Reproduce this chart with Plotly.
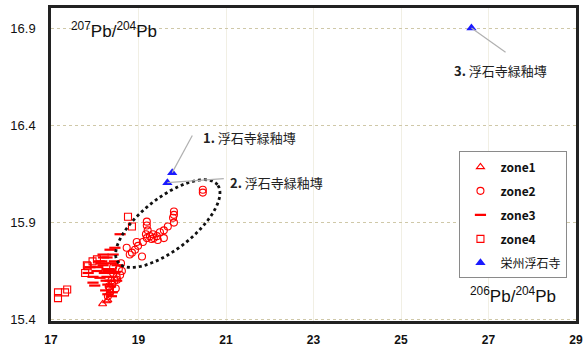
import numpy as np
import plotly.graph_objects as go

# 206Pb/204Pb (x) and 207Pb/204Pb (y) by zone
zone1_x = [18.18, 18.27, 18.30]
zone1_y = [15.48, 15.495, 15.50]

zone2_x = [20.47, 20.47, 19.81, 19.81, 19.79, 19.81, 19.67, 19.58, 19.49, 19.42,
           19.33, 19.26, 19.19, 19.19, 19.19, 19.21, 19.17, 18.96, 18.99, 18.92,
           19.08, 18.80, 18.73, 19.44, 19.58, 18.58, 18.51, 18.62, 18.42, 18.35,
           18.30, 18.35, 18.40, 18.45, 18.50, 18.38, 18.42, 18.55, 18.60, 18.32,
           18.48, 19.30, 19.35, 19.10, 18.85]
zone2_y = [16.07, 16.055, 15.957, 15.94, 15.925, 15.90, 15.88, 15.86, 15.85, 15.83,
           15.84, 15.83, 15.82, 15.905, 15.885, 15.86, 15.84, 15.80, 15.78, 15.76,
           15.725, 15.735, 15.77, 15.81, 15.82, 15.63, 15.605, 15.65, 15.67, 15.54,
           15.52, 15.56, 15.58, 15.60, 15.62, 15.60, 15.64, 15.66, 15.69, 15.57,
           15.56, 15.815, 15.82, 15.80, 15.745]

zone3_x = [18.58, 18.35, 18.42, 18.28, 18.16, 18.19, 18.39, 18.51, 17.89, 18.07,
           18.28, 17.96, 18.12, 17.96, 18.00, 18.30, 18.46, 18.19, 18.46, 18.25,
           18.30, 18.35, 18.28, 18.40, 18.33, 18.45, 18.22, 18.30, 18.38, 18.26,
           18.36, 18.10, 18.20, 17.85, 18.05, 18.15, 18.40, 18.50]
zone3_y = [15.84, 15.76, 15.735, 15.72, 15.70, 15.68, 15.69, 15.68, 15.67, 15.67,
           15.66, 15.62, 15.615, 15.59, 15.575, 15.65, 15.645, 15.735, 15.77, 15.55,
           15.58, 15.60, 15.62, 15.64, 15.66, 15.70, 15.64, 15.53, 15.52, 15.60,
           15.57, 15.70, 15.72, 15.64, 15.65, 15.69, 15.54, 15.60]

zone4_x = [17.16, 17.16, 17.32, 17.37, 17.82, 17.78, 17.84, 18.76, 18.85, 17.95, 18.05]
zone4_y = [15.51, 15.54, 15.54, 15.555, 15.68, 15.64, 15.675, 15.93, 15.88, 15.70, 15.71]

yeongju_x = [19.77, 19.66, 26.61]
yeongju_y = [16.158, 16.106, 16.905]
yeongju_labels = ["1. 浮石寺緑釉塼", "2. 浮石寺緑釉塼", "3. 浮石寺緑釉塼"]

x_ticks = [17, 19, 21, 23, 25, 27, 29]
y_ticks = [15.4, 15.9, 16.4, 16.9]

X_RANGE = [17, 29]
Y_RANGE = [15.392, 17.008]

RED = "#ff0000"
BLUE = "#1a1aff"
CJK = "Noto Sans CJK JP"
LAT = "Liberation Sans, Arial"

fig = go.Figure()

def add_zone(x, y, name, symbol, size, lw=1.1):
    fig.add_trace(go.Scatter(
        x=x, y=y, mode="markers", name=name, legendgroup=name,
        marker=dict(symbol=symbol, size=size, color=RED,
                    line=dict(color=RED, width=lw)),
    ))

add_zone(zone1_x, zone1_y, "<b>zone1</b>", "triangle-up-open", 7)
add_zone(zone2_x, zone2_y, "<b>zone2</b>", "circle-open", 7)
add_zone(zone3_x, zone3_y, "<b>zone3</b>", "line-ew", 8, lw=2.2)
add_zone(zone4_x, zone4_y, "<b>zone4</b>", "square-open", 7)
fig.add_trace(go.Scatter(
    x=yeongju_x, y=yeongju_y, mode="markers", name="栄州浮石寺", legendgroup="b",
    marker=dict(symbol="triangle-up", size=9, color=BLUE, line=dict(width=0)),
))

# pixel scale of the plot area, used for the outline ellipse
px_x = 525 / (X_RANGE[1] - X_RANGE[0])
px_y = 313 / (Y_RANGE[1] - Y_RANGE[0])

# dotted ellipse around the zone2 high-ratio group
cx, cy = 19.67, 15.895
a_px, b_px, ang = 63, 26, np.deg2rad(38)
t = np.linspace(0, 2 * np.pi, 120)
ex = a_px * np.cos(t) * np.cos(ang) - b_px * np.sin(t) * np.sin(ang)
ey = a_px * np.cos(t) * np.sin(ang) + b_px * np.sin(t) * np.cos(ang)
path = "M " + " L ".join(f"{cx + dx / px_x:.4f},{cy + dy / px_y:.4f}" for dx, dy in zip(ex, ey)) + " Z"
fig.add_shape(type="path", path=path, xref="x", yref="y",
              line=dict(color="#111111", width=2.8, dash="dot"))

# leader lines and labels for the 栄州浮石寺 samples
leader_ends = [(20.23, 16.35), (20.95, 16.127), (27.39, 16.78)]
label_pos = [(20.42, 16.34), (21.05, 16.106), (26.16, 16.684)]
for (x0, y0), (x1, y1), (lx, ly), lab in zip(zip(yeongju_x, yeongju_y), leader_ends, label_pos, yeongju_labels):
    fig.add_shape(type="line", x0=x0, y0=y0, x1=x1, y1=y1, xref="x", yref="y",
                  line=dict(color="#b0b0b0", width=1.2))
    num, txt = lab.split(" ", 1)
    fig.add_annotation(x=lx, y=ly, xref="x", yref="y", xanchor="left", yanchor="middle",
                       showarrow=False,
                       text=f"<b>{num}</b> {txt}",
                       font=dict(family=CJK, size=13, color="#222222"))

# axis titles placed inside the frame
fig.add_annotation(x=0.034, y=0.93, xref="paper", yref="paper", xanchor="left", yanchor="middle",
                   showarrow=False, text="<sup>207</sup>Pb/<sup>204</sup>Pb",
                   font=dict(family=LAT, size=17, color="#111111"))
fig.add_annotation(x=0.965, y=0.082, xref="paper", yref="paper", xanchor="right", yanchor="middle",
                   showarrow=False, text="<sup>206</sup>Pb/<sup>204</sup>Pb",
                   font=dict(family=LAT, size=17, color="#111111"))

fig.update_layout(
    width=584, height=347,
    margin=dict(l=51, r=8, t=8, b=26),
    paper_bgcolor="white", plot_bgcolor="white",
    showlegend=True,
    legend=dict(x=0.778, y=0.542, xanchor="left", yanchor="top",
                bgcolor="white", bordercolor="#8a8a8a", borderwidth=1,
                font=dict(family=CJK, size=12, color="#111111"),
                tracegroupgap=5, itemwidth=30),
    font=dict(family=LAT),
)
fig.update_xaxes(
    range=X_RANGE, tickmode="array", tickvals=x_ticks,
    ticktext=[f"<b>{v}</b>" for v in x_ticks],
    tickfont=dict(family=LAT, size=12, color="#111111"),
    showgrid=True, gridcolor="#f1efe4", gridwidth=1,
    showline=True, linecolor="#222222", linewidth=2.5, mirror=True,
    ticks="", ticklabelstandoff=6, zeroline=False, automargin=False,
)
fig.update_yaxes(
    range=Y_RANGE, tickmode="array", tickvals=y_ticks,
    ticktext=[f"{v:.1f}" for v in y_ticks],
    tickfont=dict(family=LAT, size=13, color="#111111"),
    showgrid=True, gridcolor="#cfc8a8", gridwidth=1, griddash="dot",
    showline=True, linecolor="#222222", linewidth=2.5, mirror=True,
    ticks="", ticklabelstandoff=10, zeroline=False, automargin=False,
)

fig.write_html("out.html")
